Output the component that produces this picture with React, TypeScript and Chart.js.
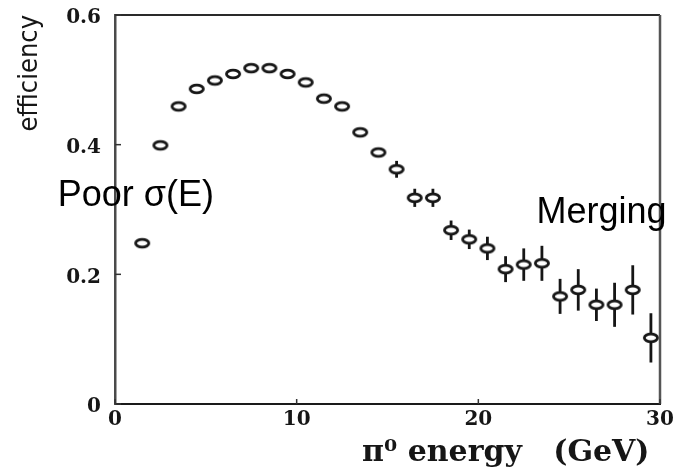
import React, { useEffect, useRef } from 'react';
import { Chart, registerables } from 'chart.js';

Chart.register(...registerables);

// pi0 energy (GeV) bin centres
const energies = [
  1.5, 2.5, 3.5, 4.5, 5.5, 6.5, 7.5, 8.5, 9.5, 10.5,
  11.5, 12.5, 13.5, 14.5, 15.5, 16.5, 17.5, 18.5, 19.5, 20.5,
  21.5, 22.5, 23.5, 24.5, 25.5, 26.5, 27.5, 28.5, 29.5,
];
// reconstruction efficiency
const efficiency = [
  0.248, 0.399, 0.459, 0.486, 0.499, 0.509, 0.518, 0.518, 0.509, 0.496,
  0.471, 0.459, 0.419, 0.388, 0.362, 0.318, 0.318, 0.268, 0.254, 0.240,
  0.208, 0.215, 0.217, 0.166, 0.176, 0.153, 0.153, 0.176, 0.102,
];
// statistical errors
const errors = [
  0.004, 0.004, 0.004, 0.004, 0.004, 0.004, 0.004, 0.004, 0.004, 0.004,
  0.004, 0.004, 0.004, 0.004, 0.013, 0.014, 0.014, 0.015, 0.015, 0.018,
  0.020, 0.025, 0.027, 0.027, 0.032, 0.025, 0.034, 0.038, 0.038,
];
const xTicks = [0, 10, 20, 30];
const yTicks = [0, 0.2, 0.4, 0.6];
const noteTexts = ['Poor σ(E)', 'Merging'];
const xTitle = 'π⁰ energy   (GeV) ';
const yTitle = 'efficiency';

const INK = '#161616';

function makeMarker(): HTMLCanvasElement {
  const c = document.createElement('canvas');
  c.width = 20;
  c.height = 14;
  const g = c.getContext('2d')!;
  g.beginPath();
  g.ellipse(10, 7, 6.6, 3.8, 0, 0, Math.PI * 2);
  g.fillStyle = '#ffffff';
  g.fill();
  g.lineWidth = 2.8;
  g.strokeStyle = INK;
  g.stroke();
  return c;
}

const errorBarsPlugin = {
  id: 'errorBars',
  beforeDatasetsDraw(chart: any) {
    const { ctx, scales } = chart;
    const x = scales.x;
    const y = scales.y;
    ctx.save();
    ctx.strokeStyle = INK;
    ctx.lineWidth = 2.8;
    energies.forEach((e, i) => {
      const px = x.getPixelForValue(e);
      ctx.beginPath();
      ctx.moveTo(px, y.getPixelForValue(efficiency[i] - errors[i]));
      ctx.lineTo(px, y.getPixelForValue(efficiency[i] + errors[i]));
      ctx.stroke();
    });
    ctx.restore();
  },
};

const framePlugin = {
  id: 'frame',
  afterDraw(chart: any) {
    const { ctx, chartArea, scales } = chart;
    const { left, right, top, bottom } = chartArea;
    ctx.save();
    ctx.lineWidth = 2;
    ctx.strokeStyle = '#2a2a2a';
    ctx.beginPath();
    ctx.moveTo(left, top);
    ctx.lineTo(right, top);
    ctx.stroke();
    ctx.strokeStyle = '#555555';
    ctx.lineWidth = 2.5;
    ctx.beginPath();
    ctx.moveTo(right, top);
    ctx.lineTo(right, bottom);
    ctx.stroke();
    // inward tick marks
    ctx.strokeStyle = '#333333';
    ctx.lineWidth = 1.5;
    scales.y.ticks.forEach((t: any) => {
      const py = scales.y.getPixelForValue(t.value);
      ctx.beginPath();
      ctx.moveTo(left, py);
      ctx.lineTo(left + 6, py);
      ctx.stroke();
    });
    scales.x.ticks.forEach((t: any) => {
      const px = scales.x.getPixelForValue(t.value);
      ctx.beginPath();
      ctx.moveTo(px, bottom);
      ctx.lineTo(px, bottom - 5);
      ctx.stroke();
    });
    // annotations
    ctx.fillStyle = '#000000';
    ctx.font = '36px "Liberation Sans", Arial, sans-serif';
    ctx.textAlign = 'left';
    ctx.textBaseline = 'alphabetic';
    ctx.fillText(noteTexts[0], scales.x.getPixelForValue(-3.15), scales.y.getPixelForValue(0.306));
    ctx.fillText(noteTexts[1], scales.x.getPixelForValue(23.2), scales.y.getPixelForValue(0.279));
    ctx.restore();
  },
};

export default function App() {
  const canvasRef = useRef<HTMLCanvasElement | null>(null);

  useEffect(() => {
    const canvas = canvasRef.current;
    if (!canvas) return;
    const marker = makeMarker();
    const chart = new Chart(canvas, {
      type: 'scatter',
      data: {
        datasets: [
          {
            label: 'efficiency',
            data: energies.map((e, i) => ({ x: e, y: efficiency[i] })),
            pointStyle: marker as any,
            pointRadius: 7,
            showLine: false,
          },
        ],
      },
      options: {
        responsive: false,
        animation: false,
        devicePixelRatio: 1,
        layout: { padding: { left: 0, right: 24, top: 15, bottom: 0 } },
        plugins: {
          legend: { display: false },
          tooltip: { enabled: false },
        },
        scales: {
          x: {
            type: 'linear',
            min: 0,
            max: 30,
            afterFit: (s: any) => {
              s.height = 64;
              s.paddingLeft = 0;
              s.paddingRight = 0;
            },
            afterBuildTicks: (s: any) => {
              s.ticks = xTicks.map((v) => ({ value: v }));
            },
            grid: { display: false, drawTicks: false },
            border: { display: true, color: '#1a1a1a', width: 2 },
            ticks: {
              color: INK,
              padding: 4,
              maxRotation: 0,
              font: { family: '"DejaVu Serif", serif', size: 20, weight: 'bold' },
            },
            title: {
              display: true,
              text: xTitle,
              align: 'end',
              color: INK,
              padding: { top: 0, bottom: -3 },
              font: { family: '"DejaVu Serif", serif', size: 30, weight: 'bold' },
            },
          },
          y: {
            type: 'linear',
            min: 0,
            max: 0.6,
            afterFit: (s: any) => {
              s.width = 115;
              s.paddingTop = 0;
              s.paddingBottom = 0;
            },
            afterBuildTicks: (s: any) => {
              s.ticks = yTicks.map((v) => ({ value: v }));
            },
            grid: { display: false, drawTicks: false },
            border: { display: true, color: '#4a4a4a', width: 2.5 },
            ticks: {
              color: INK,
              padding: 14,
              labelOffset: 3,
              font: { family: '"DejaVu Serif", serif', size: 20, weight: 'bold' },
              callback: (v: any) => String(v),
            },
            title: {
              display: true,
              text: yTitle,
              align: 'end',
              color: INK,
              padding: { top: 14, bottom: 0 },
              font: { family: '"DejaVu Sans Condensed", "Liberation Sans Narrow", sans-serif', size: 27 },
            },
          },
        },
      },
      plugins: [errorBarsPlugin, framePlugin],
    });
    return () => chart.destroy();
  }, []);

  return (
    <div style={{ position: 'fixed', left: 0, top: 0, width: 684, height: 468, background: '#fff' }}>
      <canvas ref={canvasRef} width={684} height={468} />
    </div>
  );
}
